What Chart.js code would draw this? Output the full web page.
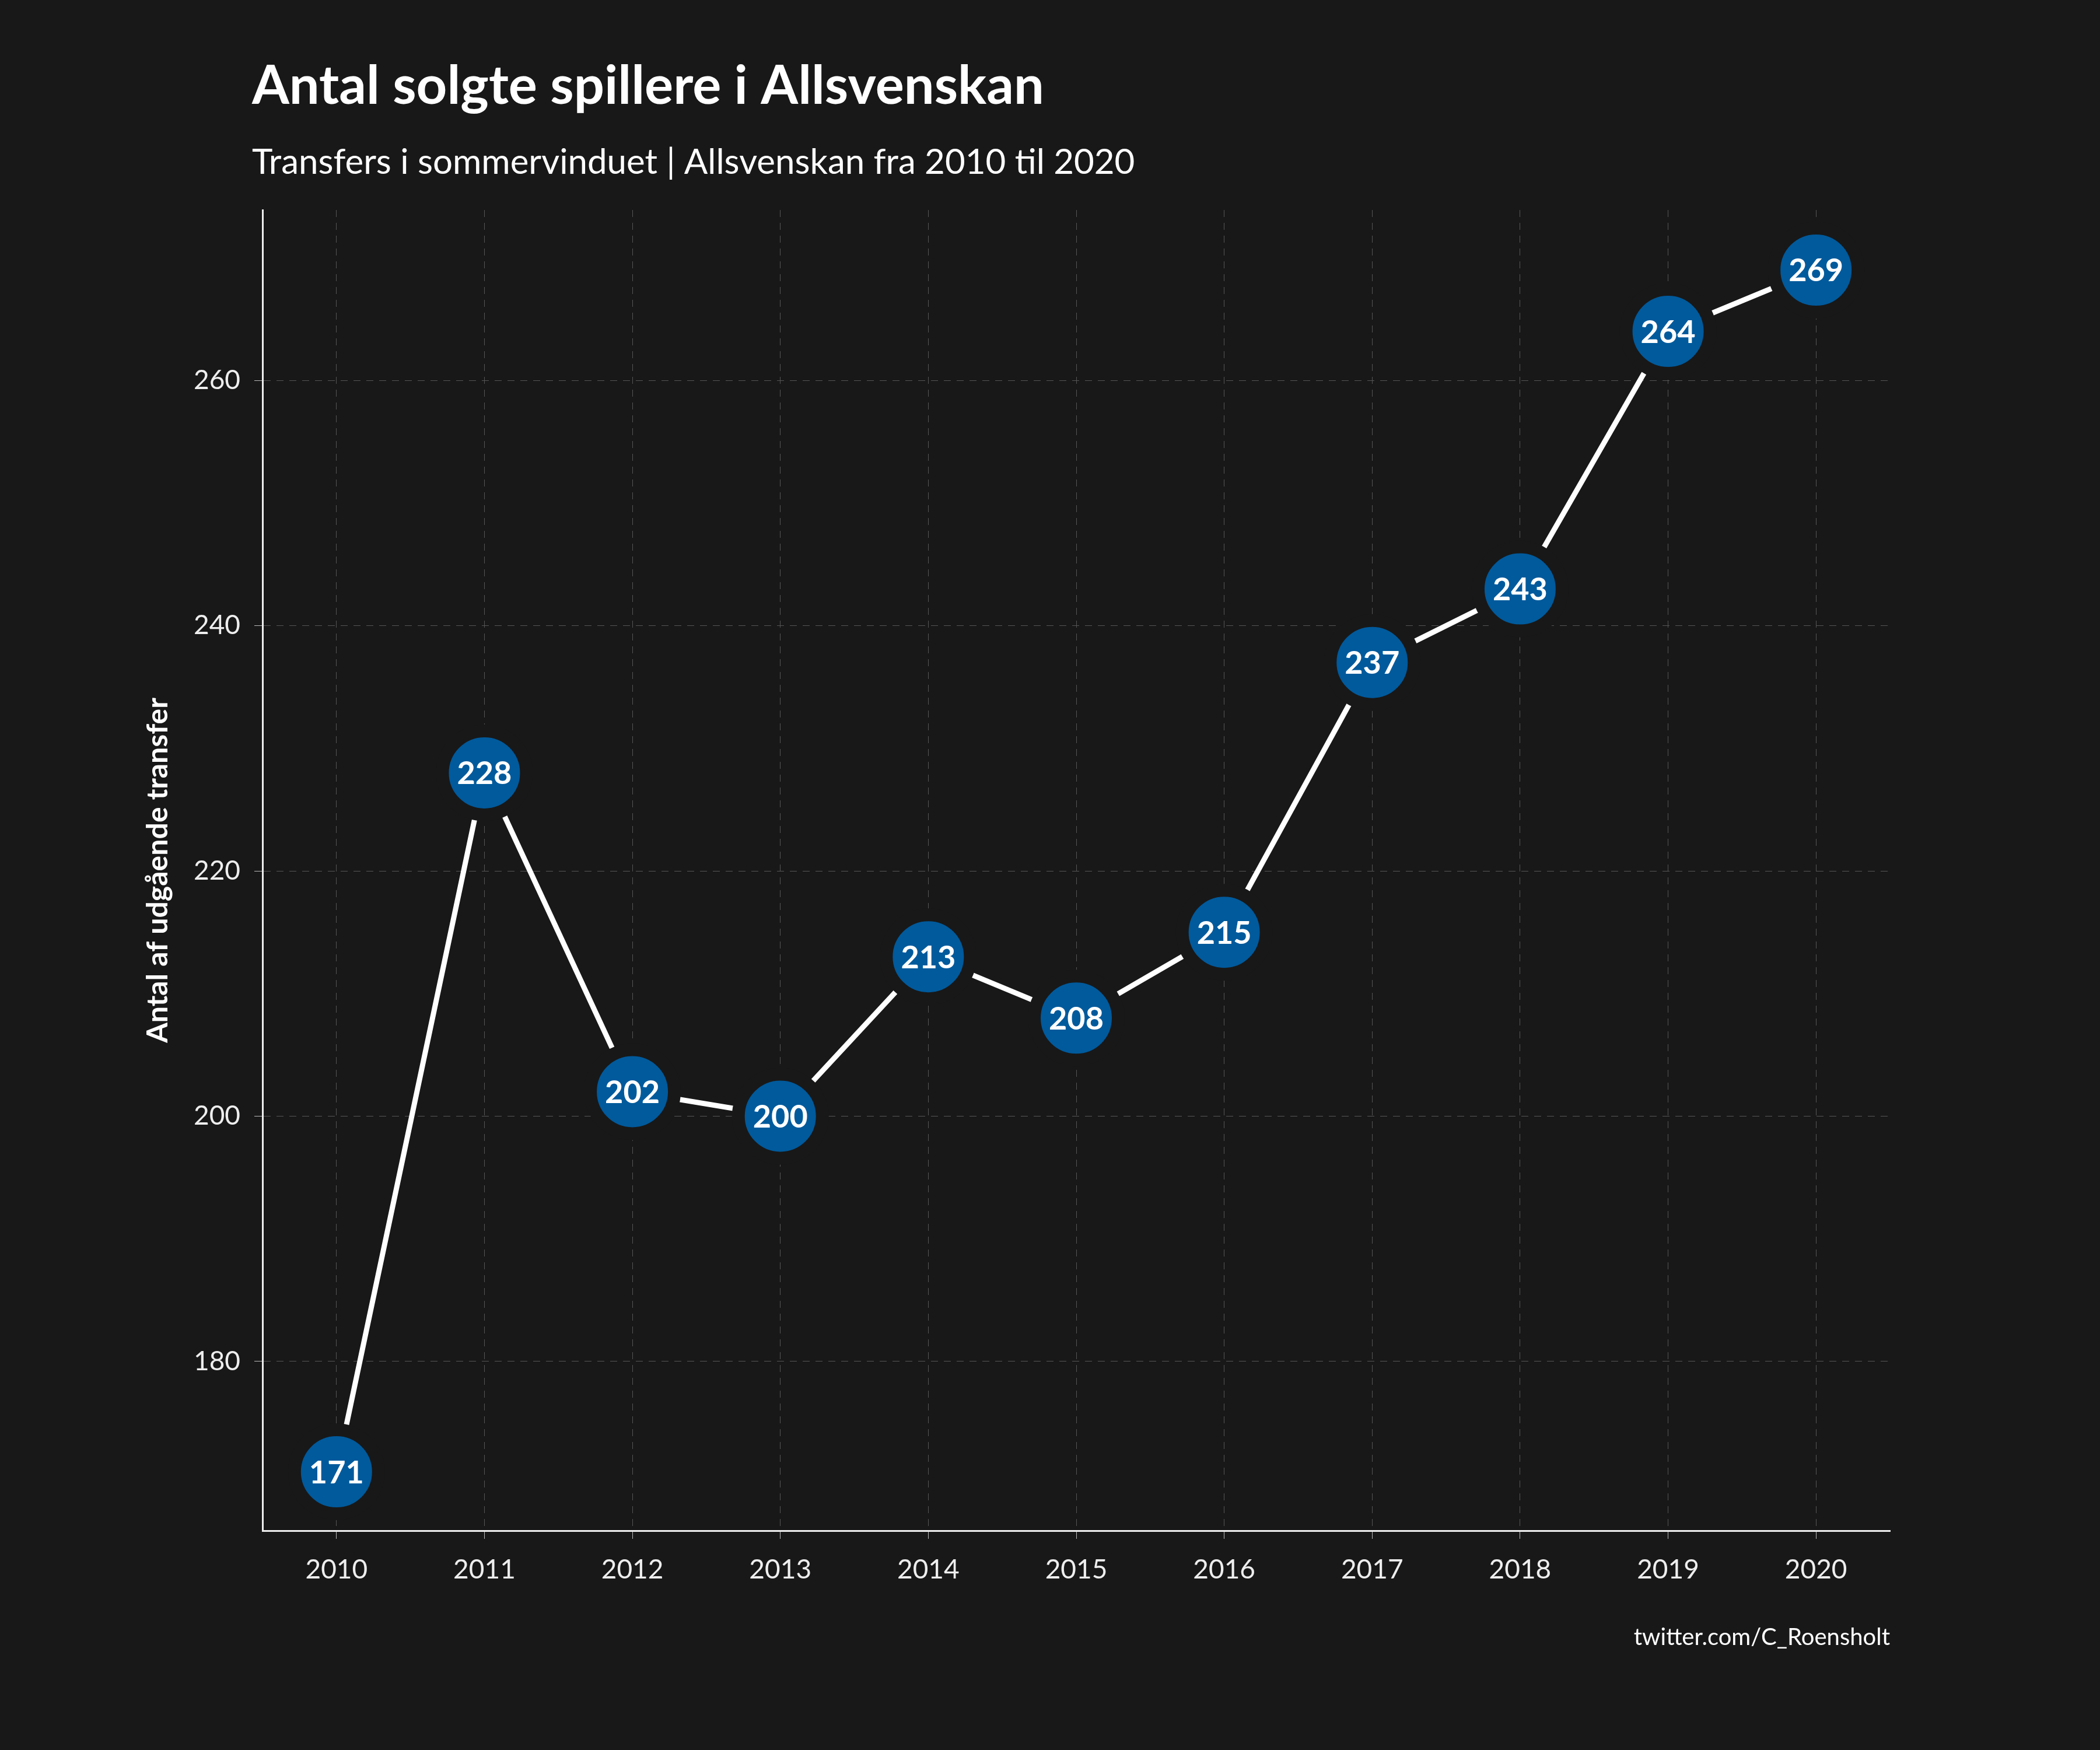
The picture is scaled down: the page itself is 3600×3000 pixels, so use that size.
<!DOCTYPE html>
<html>
<head>
<meta charset="utf-8">
<script src="https://cdn.jsdelivr.net/npm/chart.js@4/dist/chart.umd.min.js"></script>
<style>
  html, body { margin: 0; padding: 0; background: #181818; }
  #wrap { width: 3600px; height: 3000px; }
</style>
</head>
<body>
<div id="wrap"><canvas id="c" width="3600" height="3000"></canvas></div>
<script>
// Data
const years = ['2010', '2011', '2012', '2013', '2014', '2015', '2016', '2017', '2018', '2019', '2020'];
const transfers = [171, 228, 202, 200, 213, 208, 215, 237, 243, 264, 269];
const yTicks = [180, 200, 220, 240, 260];

const BG = '#181818';
const FONT = 'Lato, "Open Sans", sans-serif';

// Titler, aksetitel, kilde og punktetiketter
const textPlugin = {
    id: 'texts',
    afterDatasetsDraw(chart) {
        const c = chart.ctx;
        const area = chart.chartArea;
        c.save();
        c.fillStyle = '#ffffff';
        c.textBaseline = 'middle';
        c.textAlign = 'center';
        c.font = `bold 54px ${FONT}`;
        chart.getDatasetMeta(0).data.forEach((pt, i) => {
            c.fillText(transfers[i], pt.x, pt.y + 2);
        });
        c.textAlign = 'left';
        c.textBaseline = 'alphabetic';
        c.font = `bold 92px ${FONT}`;
        c.fillText('Antal solgte spillere i Allsvenskan', 432, 178);
        c.font = `60px ${FONT}`;
        c.fillText('Transfers i sommervinduet | Allsvenskan fra 2010 til 2020', 432, 298);
        c.textAlign = 'right';
        c.font = `40px ${FONT}`;
        c.fillText('twitter.com/C_Roensholt', area.right, 2820);
        c.translate(271, (area.top + area.bottom) / 2);
        c.rotate(-Math.PI / 2);
        c.textAlign = 'center';
        c.textBaseline = 'middle';
        c.font = `bold 50px ${FONT}`;
        c.fillText('Antal af udgående transfer', 0, 0);
        c.restore();
    }
};

new Chart(document.getElementById('c'), {
    type: 'line',
    data: {
        labels: years,
        datasets: [{
            data: transfers,
            borderColor: '#ffffff',
            borderWidth: 9,
            tension: 0,
            pointRadius: 72,
            pointHoverRadius: 72,
            pointBackgroundColor: '#005a9c',
            pointBorderColor: BG,
            pointBorderWidth: 22,
            pointHoverBorderWidth: 22
        }]
    },
    options: {
        responsive: false,
        animation: false,
        devicePixelRatio: 1,
        layout: { padding: { top: 360, right: 360, left: 0, bottom: 0 } },
        plugins: { legend: { display: false }, tooltip: { enabled: false } },
        scales: {
            x: {
                offset: true,
                afterFit: s => { s.height = 376; },
                grid: { color: '#555555', tickLength: 14, tickColor: '#bbbbbb', offset: false },
                border: { color: '#eeeeee', width: 3, dash: [12, 10] },
                ticks: { color: '#eeeeee', padding: 26, font: { size: 46, family: FONT } }
            },
            y: {
                min: 166.2,
                max: 273.9,
                afterFit: s => { s.width = 450; },
                afterBuildTicks: s => { s.ticks = yTicks.map(v => ({ value: v })); },
                grid: { color: '#555555', tickLength: 14, tickColor: '#bbbbbb' },
                border: { color: '#eeeeee', width: 3, dash: [12, 10] },
                ticks: { color: '#eeeeee', padding: 24, font: { size: 46, family: FONT } }
            }
        }
    },
    plugins: [textPlugin]
});
</script>
</body>
</html>
